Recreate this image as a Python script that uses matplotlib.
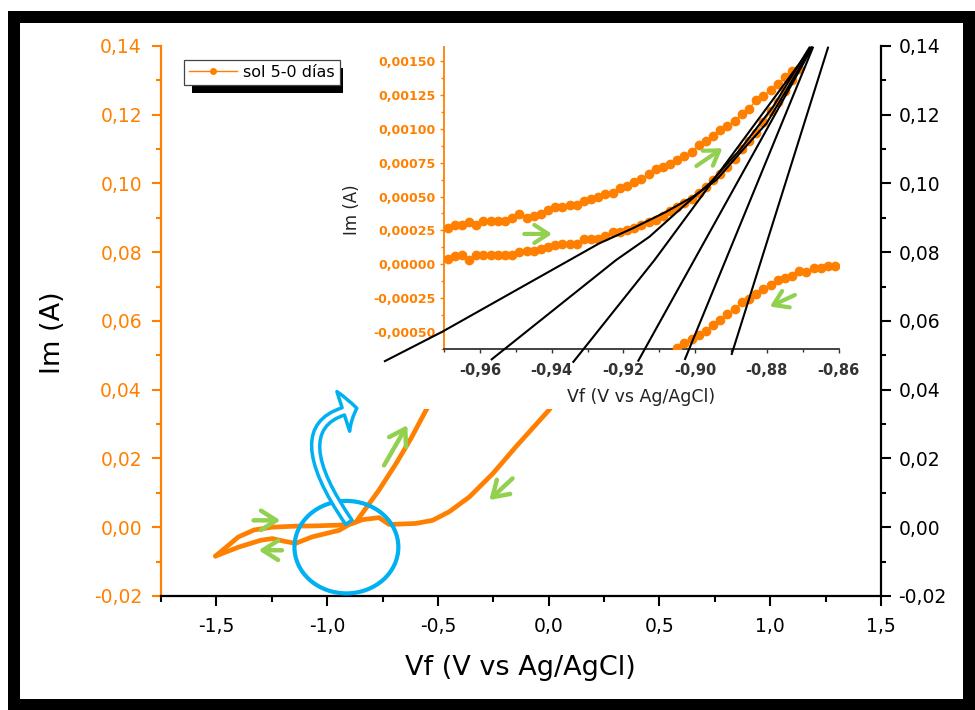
import numpy as np
import matplotlib
matplotlib.use('Agg')
import matplotlib.pyplot as plt
from matplotlib.ticker import MultipleLocator, FuncFormatter
from matplotlib.patches import Ellipse, FancyArrowPatch, Rectangle, ArrowStyle
from matplotlib.lines import Line2D
from matplotlib.path import Path
from matplotlib.transforms import IdentityTransform

ORANGE = '#FF8000'
GREEN = '#92D050'
BLUE = '#00B0F0'

# ---------------- main cyclic voltammogram (V, A) ----------------
fwd_v = [-1.504, -1.45, -1.40, -1.33, -1.25, -1.15, -1.05, -0.95, -0.90, -0.87,
         -0.842, -0.766, -0.689, -0.62, -0.554, -0.45]
fwd_i = [-0.0084, -0.0055, -0.0028, -0.0008, 0.0000, 0.0003, 0.0004, 0.0006, 0.0009, 0.0015,
         0.0040, 0.0108, 0.0185, 0.0260, 0.0340, 0.0450]
rev_v = [0.12, 0.003, -0.148, -0.252, -0.358, -0.449, -0.524, -0.600, -0.720, -0.766,
         -0.84, -0.90, -0.946, -1.067, -1.142, -1.20, -1.247, -1.30, -1.40, -1.504]
rev_i = [0.0450, 0.0342, 0.0234, 0.0156, 0.0088, 0.0045, 0.0020, 0.0011, 0.0008, 0.0028,
         0.0022, 0.0008, -0.0009, -0.0028, -0.0047, -0.0040, -0.0033, -0.0038, -0.0058, -0.0084]

# ---------------- inset data (V, A) ----------------
up_v = [-0.969, -0.967, -0.965, -0.963, -0.961, -0.959, -0.957, -0.955, -0.953, -0.951,
        -0.949, -0.947, -0.945, -0.943, -0.941, -0.939, -0.937, -0.935, -0.933, -0.931,
        -0.929, -0.927, -0.925, -0.923, -0.921, -0.919, -0.917, -0.915, -0.913, -0.911,
        -0.909, -0.907, -0.905, -0.903, -0.901, -0.899, -0.897, -0.895, -0.893, -0.891,
        -0.889, -0.887, -0.885, -0.883, -0.881, -0.879, -0.877, -0.875, -0.873]
up_i = [0.00027, 0.00029, 0.00029, 0.00031, 0.00029, 0.00032, 0.00032, 0.00032, 0.00032, 0.00034,
        0.00037, 0.00034, 0.00036, 0.00037, 0.00040, 0.00042, 0.00042, 0.00044, 0.00044, 0.00047,
        0.00048, 0.00050, 0.00052, 0.00053, 0.00056, 0.00058, 0.00061, 0.00063, 0.00067, 0.00070,
        0.00072, 0.00074, 0.00077, 0.00080, 0.00083, 0.00088, 0.00091, 0.00095, 0.00099, 0.00102,
        0.00106, 0.00111, 0.00115, 0.00121, 0.00124, 0.00129, 0.00133, 0.00138, 0.00143]
low_v = [-0.969, -0.967, -0.965, -0.963, -0.961, -0.959, -0.957, -0.955, -0.953, -0.951,
         -0.949, -0.947, -0.945, -0.943, -0.941, -0.939, -0.937, -0.935, -0.933, -0.931,
         -0.929, -0.927, -0.925, -0.923, -0.921, -0.919, -0.917, -0.915, -0.913, -0.911,
         -0.909, -0.907, -0.905, -0.903, -0.901, -0.899, -0.897, -0.895, -0.893, -0.891,
         -0.889, -0.887, -0.885, -0.883, -0.881, -0.879, -0.877, -0.875, -0.873, -0.871]
low_i = [0.00004, 0.00006, 0.00007, 0.00003, 0.00007, 0.00007, 0.00007, 0.00007, 0.00007, 0.00007,
         0.00009, 0.00010, 0.00010, 0.00011, 0.00013, 0.00014, 0.00015, 0.00015, 0.00015, 0.00019,
         0.00019, 0.00019, 0.00021, 0.00024, 0.00024, 0.00025, 0.00027, 0.00029, 0.00031, 0.00033,
         0.00036, 0.00039, 0.00042, 0.00045, 0.00048, 0.00053, 0.00057, 0.00062, 0.00067, 0.00072,
         0.00078, 0.00085, 0.00091, 0.00097, 0.00105, 0.00113, 0.00120, 0.00128, 0.00136, 0.00144]
back_v = [-0.905, -0.903, -0.901, -0.899, -0.897, -0.895, -0.893, -0.891, -0.889, -0.887,
          -0.885, -0.883, -0.881, -0.879, -0.877, -0.875, -0.873, -0.871, -0.869, -0.867,
          -0.865, -0.863, -0.861]
back_i = [-0.00062, -0.00058, -0.00055, -0.00052, -0.00049, -0.00045, -0.00041, -0.00037, -0.00033, -0.00028,
          -0.00026, -0.00022, -0.00018, -0.00015, -0.00012, -0.00010, -0.00009, -0.00005, -0.00006, -0.00003,
          -0.00003, -0.00001, -0.00001]

# tangent construction lines in the inset (V, A)
tan_lines = [
    ([-0.98673, -0.97045, -0.92668, -0.91737, -0.90804, -0.90061, -0.89408, -0.88757, -0.88011, -0.87453, -0.86754],
     [-0.000719, -0.000498, 0.000155, 0.000266, 0.000388, 0.000499, 0.000623, 0.000820, 0.001041, 0.001287, 0.001607]),
    ([-0.95693, -0.92201, -0.91271, -0.90341, -0.89595, -0.88757, -0.87827, -0.86802],
     [-0.000707, 0.0000318, 0.000204, 0.000425, 0.000598, 0.000844, 0.001164, 0.001607]),
    ([-0.93413, -0.91131, -0.86746], [-0.000727, 0.0000318, 0.001607]),
    ([-0.91598, -0.86726], [-0.000719, 0.001607]),
    ([-0.90293, -0.86709], [-0.000707, 0.001607]),
    ([-0.88989, -0.86290], [-0.000670, 0.001607]),
]

series_label = 'sol 5-0 días'

# ---------------- figure ----------------
plt.rcParams['font.family'] = ['DejaVu Sans']
fig = plt.figure(figsize=(9.75, 7.1), dpi=100)

ax = fig.add_axes([0.1651, 0.1606, 0.73846, 0.77465], zorder=0)
ax.plot(fwd_v, fwd_i, color=ORANGE, lw=3.4, solid_capstyle='round', solid_joinstyle='round', zorder=3)
ax.plot(rev_v, rev_i, color=ORANGE, lw=3.4, solid_capstyle='round', solid_joinstyle='round', zorder=3)
ax.set_xlim(-1.75, 1.5)
ax.set_ylim(-0.02, 0.14)

ax.xaxis.set_major_locator(MultipleLocator(0.5))
ax.xaxis.set_minor_locator(MultipleLocator(0.25))
ax.yaxis.set_major_locator(MultipleLocator(0.02))
ax.yaxis.set_minor_locator(MultipleLocator(0.01))
ax.xaxis.set_major_formatter(FuncFormatter(lambda v, p: f'{v:.1f}'.replace('.', ',')))
ax.yaxis.set_major_formatter(FuncFormatter(lambda v, p: f'{v:.2f}'.replace('.', ',')))

for s in ['top', 'right']:
    ax.spines[s].set_visible(False)
ax.spines['left'].set_color(ORANGE)
ax.spines['left'].set_linewidth(1.6)
ax.spines['bottom'].set_color('black')
ax.spines['bottom'].set_linewidth(1.6)
ax.tick_params(axis='y', which='both', colors=ORANGE, direction='out', width=1.5, labelsize=13.5, pad=7)
ax.tick_params(axis='y', which='major', length=6.7)
ax.tick_params(axis='y', which='minor', length=3.8)
ax.tick_params(axis='x', which='both', colors='black', direction='out', width=1.5, labelsize=13.5, pad=8)
ax.tick_params(axis='x', which='major', length=7)
ax.tick_params(axis='x', which='minor', length=4.5)

ax.set_xlabel('Vf (V vs Ag/AgCl)', fontsize=19.5, color='black')
ax.xaxis.set_label_coords(0.499, -0.107)
ax.xaxis.label.set_va('top')
ax.set_ylabel('Im (A)', fontsize=19.5, color='black')
ax.yaxis.set_label_coords(-0.132, 0.478)

ax2 = ax.twinx()
ax2.set_ylim(-0.02, 0.14)
ax2.yaxis.set_major_locator(MultipleLocator(0.02))
ax2.yaxis.set_minor_locator(MultipleLocator(0.01))
ax2.yaxis.set_major_formatter(FuncFormatter(lambda v, p: f'{v:.2f}'.replace('.', ',')))
for s in ['top', 'left', 'bottom']:
    ax2.spines[s].set_visible(False)
ax2.spines['right'].set_color('black')
ax2.spines['right'].set_linewidth(1.6)
ax2.tick_params(axis='y', which='both', colors='black', direction='out', width=1.5, labelsize=13.5, pad=5.5)
ax2.tick_params(axis='y', which='major', length=7)
ax2.tick_params(axis='y', which='minor', length=3.8)

# legend
handle = Line2D([], [], color=ORANGE, lw=1.0, marker='o', markersize=4)
leg = ax.legend([handle], [series_label], loc='upper left', bbox_to_anchor=(0.032, 0.9745),
                borderaxespad=0, fontsize=11.5, frameon=True, fancybox=False, edgecolor='#444444',
                framealpha=1, borderpad=0.3, handlelength=3.0, handletextpad=0.4)
leg.get_frame().set_linewidth(0.9)
leg.set_zorder(8)

# annotations on main plot
circle = Ellipse((-0.913, -0.0058), 0.469, 0.0269, fill=False, ec=BLUE, lw=3, zorder=6)
ax.add_patch(circle)
curve_path = Path([(-0.902, 0.00145), (-1.2186, 0.0311), (-0.866, 0.0346)],
                  [Path.MOVETO, Path.CURVE3, Path.CURVE3])
curved = FancyArrowPatch(path=curve_path,
                         arrowstyle=ArrowStyle.Simple(head_length=1.0, head_width=3.0, tail_width=0.55),
                         mutation_scale=10, fc='white', ec=BLUE, lw=2.5, zorder=7)
ax.add_patch(curved)

green_main = [((-1.332, 0.0020), (-1.211, 0.0020)),
              ((-1.204, -0.0067), (-1.309, -0.0067)),
              ((-0.743, 0.0180), (-0.638, 0.0297)),
              ((-0.163, 0.0142), (-0.268, 0.0079))]
for a, b in green_main:
    ax.add_patch(FancyArrowPatch(a, b, arrowstyle='->,head_length=1.1,head_width=0.7', mutation_scale=10,
                                 color=GREEN, lw=3.2, shrinkA=0, shrinkB=0, zorder=7))

# white panel behind the inset
fig.add_artist(Rectangle((370 / 975, 1 - 409 / 710), (862 - 370) / 975, (409 - 40) / 710,
                         transform=fig.transFigure, fc='white', ec='none', zorder=0.5))

# ---------------- inset ----------------
axi = fig.add_axes([0.4554, 0.50845, 0.4048, 0.42577], zorder=1)
axi.set_facecolor('white')
for xs, ys in [(up_v, up_i), (low_v, low_i), (back_v, back_i)]:
    axi.plot(xs, ys, color=ORANGE, lw=1, marker='o', markersize=6, zorder=3)
for xs, ys in tan_lines:
    axi.plot(xs, ys, color='black', lw=1.5, clip_on=False, zorder=4, solid_capstyle='butt')
axi.set_xlim(-0.97, -0.86)
axi.set_ylim(-0.000626, 0.001607)
axi.xaxis.set_major_locator(MultipleLocator(0.02))
axi.xaxis.set_minor_locator(MultipleLocator(0.01))
axi.yaxis.set_major_locator(MultipleLocator(0.00025))
axi.yaxis.set_minor_locator(MultipleLocator(0.000125))
axi.xaxis.set_major_formatter(FuncFormatter(lambda v, p: f'{v:.2f}'.replace('.', ',')))
axi.yaxis.set_major_formatter(FuncFormatter(lambda v, p: f'{v:.5f}'.replace('.', ',')))
for s in ['top', 'right']:
    axi.spines[s].set_visible(False)
axi.spines['left'].set_color(ORANGE)
axi.spines['left'].set_linewidth(1.3)
axi.spines['bottom'].set_color('#333333')
axi.spines['bottom'].set_linewidth(1.3)
axi.tick_params(axis='y', which='both', colors=ORANGE, direction='out', width=1.0, labelsize=9, pad=3)
axi.tick_params(axis='y', which='major', length=3)
axi.tick_params(axis='y', which='minor', length=2)
axi.tick_params(axis='x', which='both', colors='#333333', direction='out', width=1.0, labelsize=10.5, pad=7)
axi.tick_params(axis='x', which='major', length=3)
axi.tick_params(axis='x', which='minor', length=2.5)
for lab in axi.get_xticklabels() + axi.get_yticklabels():
    lab.set_fontweight('bold')
axi.set_xlabel('Vf (V vs Ag/AgCl)', fontsize=12.5, color='#222222')
axi.xaxis.set_label_coords(0.498, -0.129)
axi.xaxis.label.set_va('top')
axi.set_ylabel('Im (A)', fontsize=12, color='#222222')
axi.yaxis.set_label_coords(-0.21, 0.46)

green_inset = [((-0.94763, 0.000224), (-0.93989, 0.000224)),
               ((-0.89966, 0.000726), (-0.89240, 0.000857)),
               ((-0.87221, -0.000227), (-0.87919, -0.000313))]
for a, b in green_inset:
    axi.add_patch(FancyArrowPatch(a, b, arrowstyle='->,head_length=1.0,head_width=0.65', mutation_scale=10,
                                  color=GREEN, lw=3.0, shrinkA=0, shrinkB=0, zorder=6))

# outer black frame
fig.add_artist(Rectangle((14 / 975, 5 / 710), (969 - 14) / 975, (705 - 17) / 710,
                         transform=fig.transFigure, fill=False, ec='black', lw=8.64,
                         joinstyle='miter', zorder=10))

# legend shadow
fig.canvas.draw()
bb = leg.get_window_extent(fig.canvas.get_renderer())
shadow = Rectangle((bb.x0 + 8, bb.y0 - 8), bb.width - 5, bb.height, transform=IdentityTransform(),
                   fc='black', ec='none', zorder=7.5, clip_on=False)
ax.add_artist(shadow)

fig.savefig('out.png', dpi=100)
